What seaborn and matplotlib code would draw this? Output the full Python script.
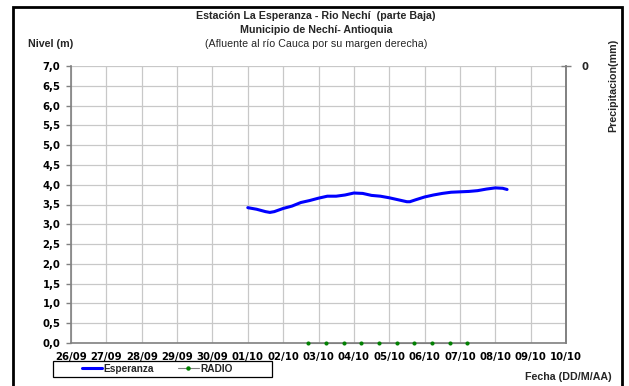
import matplotlib
matplotlib.use("Agg")
import matplotlib.pyplot as plt
import matplotlib.dates as mdates
from matplotlib.lines import Line2D
from matplotlib.patches import Rectangle
from matplotlib.font_manager import FontProperties
import pandas as pd
import seaborn as sns

# Water level at La Esperanza station (m)
nivel_fechas = [
    "2010-10-01 00:00", "2010-10-01 06:00", "2010-10-01 12:00", "2010-10-01 15:00",
    "2010-10-01 18:00", "2010-10-02 00:00", "2010-10-02 06:00", "2010-10-02 12:00",
    "2010-10-02 18:00", "2010-10-03 00:00", "2010-10-03 06:00", "2010-10-03 12:00",
    "2010-10-03 18:00", "2010-10-04 00:00", "2010-10-04 06:00", "2010-10-04 12:00",
    "2010-10-04 18:00", "2010-10-05 00:00", "2010-10-05 06:00", "2010-10-05 12:00",
    "2010-10-05 14:00", "2010-10-05 18:00", "2010-10-06 00:00", "2010-10-06 06:00",
    "2010-10-06 12:00", "2010-10-06 18:00", "2010-10-07 00:00", "2010-10-07 06:00",
    "2010-10-07 12:00", "2010-10-07 18:00", "2010-10-08 00:00", "2010-10-08 05:00",
    "2010-10-08 08:00",
]
nivel_valores = [
    3.42, 3.38, 3.32, 3.30,
    3.32, 3.40, 3.46, 3.55,
    3.60, 3.66, 3.71, 3.71,
    3.74, 3.79, 3.78, 3.73,
    3.71, 3.67, 3.62, 3.57,
    3.57, 3.62, 3.69, 3.74,
    3.78, 3.81, 3.82, 3.83,
    3.85, 3.89, 3.92, 3.91,
    3.88,
]

# Radio reports (plotted on the zero line)
radio_fechas = [
    "2010-10-02 17:00", "2010-10-03 05:00", "2010-10-03 17:00", "2010-10-04 05:00",
    "2010-10-04 17:00", "2010-10-05 05:00", "2010-10-05 17:00", "2010-10-06 05:00",
    "2010-10-06 17:00", "2010-10-07 05:00",
]
radio_valores = [0, 0, 0, 0, 0, 0, 0, 0, 0, 0]

# Axis settings
y_ticks = [0.0, 0.5, 1.0, 1.5, 2.0, 2.5, 3.0, 3.5, 4.0, 4.5, 5.0, 5.5, 6.0, 6.5, 7.0]
x_inicio = "2010-09-26"
x_fin = "2010-10-10"

sns.set_style("white")
plt.rcParams["font.family"] = ["Liberation Sans", "DejaVu Sans"]

df_nivel = pd.DataFrame({"fecha": pd.to_datetime(nivel_fechas), "nivel": nivel_valores})
df_radio = pd.DataFrame({"fecha": pd.to_datetime(radio_fechas), "radio": radio_valores})

W, H = 629, 386
fig = plt.figure(figsize=(W / 100, H / 100), dpi=100)
ax = fig.add_axes([71 / W, 43 / H, 495 / W, 277 / H])

blue = "#0000FF"
green = "#008000"
grid_c = "#C8C8C8"
axis_c = "#808080"

sns.lineplot(data=df_nivel, x="fecha", y="nivel", ax=ax, color=blue, lw=2.2,
             legend=False, zorder=4)
sns.lineplot(data=df_radio, x="fecha", y="radio", ax=ax, color=axis_c, lw=0.8,
             marker="o", markersize=2.2, markerfacecolor=green, markeredgecolor=green,
             legend=False, zorder=3, clip_on=False)

ax.set_xlim(pd.Timestamp(x_inicio), pd.Timestamp(x_fin))
ax.set_ylim(0, 7)
ax.set_yticks(y_ticks)
ax.set_yticklabels([f"{v:.1f}".replace(".", ",") for v in y_ticks])
ax.xaxis.set_major_locator(mdates.DayLocator())
ax.xaxis.set_major_formatter(mdates.DateFormatter("%d/%m"))
ax.set_xlabel("")
ax.set_ylabel("")

ax.grid(True, color=grid_c, lw=0.9)
ax.set_axisbelow(True)
for side in ["left", "bottom", "right"]:
    ax.spines[side].set_color(axis_c)
    ax.spines[side].set_linewidth(1.2)
ax.spines["top"].set_visible(False)

tick_fp = FontProperties(family="DejaVu Sans", weight="bold", size=7.3)
for lab in ax.get_xticklabels() + ax.get_yticklabels():
    lab.set_fontproperties(tick_fp)
ax.tick_params(axis="both", direction="out", length=3.5, width=1.0, color=axis_c,
               labelcolor="black")
ax.tick_params(axis="y", pad=4)
ax.tick_params(axis="x", pad=3)

# Secondary precipitation axis (inverted, only the zero mark)
ax2 = ax.twinx()
ax2.set_ylim(1, 0)
ax2.set_yticks([0])
ax2.set_yticklabels(["0"])
for lab in ax2.get_yticklabels():
    lab.set_fontproperties(tick_fp)
ax2.tick_params(axis="y", direction="inout", length=7, width=1.0, color=axis_c, pad=8)
for side in ["left", "top", "bottom"]:
    ax2.spines[side].set_visible(False)
ax2.spines["right"].set_color(axis_c)
ax2.spines["right"].set_linewidth(1.2)

# Titles and axis captions
fig.text(316 / W, 1 - 16 / H, "Estación La Esperanza - Rio Nechí  (parte Baja)",
         ha="center", va="center", fontsize=7.7, fontweight="bold")
fig.text(316 / W, 1 - 30 / H, "Municipio de Nechí- Antioquia",
         ha="center", va="center", fontsize=7.7, fontweight="bold")
fig.text(316 / W, 1 - 44 / H, "(Afluente al río Cauca por su margen derecha)",
         ha="center", va="center", fontsize=7.7)
fig.text(51 / W, 1 - 44 / H, "Nivel (m)", ha="center", va="center",
         fontsize=7.7, fontweight="bold")
fig.text(613 / W, 1 - 85 / H, "Precipitacion(mm)", ha="center", va="center",
         rotation=90, fontsize=7.7, fontweight="bold")
fig.text(612 / W, 1 - 377 / H, "Fecha (DD/M/AA)", ha="right", va="center",
         fontsize=7.7, fontweight="bold")

# Legend with its own box below the axis
handles = [
    Line2D([], [], color=blue, lw=2.2),
    Line2D([], [], color=axis_c, lw=0.8, marker="o", markersize=2.2,
           markerfacecolor=green, markeredgecolor=green),
]
fig.legend(handles, ["Esperanza", "RADIO"], ncol=2, loc="center",
           bbox_to_anchor=(157 / W, 1 - 369 / H), frameon=False,
           handlelength=2.0, handletextpad=0.15, columnspacing=2.4, borderpad=0.1,
           prop=dict(family="Liberation Sans", size=7.3, weight="bold"))
fig.patches.append(Rectangle((53 / W, 1 - 377 / H), (272 - 53) / W, 16 / H,
                             transform=fig.transFigure, fill=False,
                             edgecolor="black", lw=0.9, zorder=9))

# Outer frame of the chart
fig.patches.append(Rectangle((12.5 / W, -0.1), (622 - 12.5) / W, 1.1 - 6.5 / H,
                             transform=fig.transFigure, fill=False,
                             edgecolor="black", lw=2.0, zorder=10))

fig.savefig("out.png", dpi=100)
